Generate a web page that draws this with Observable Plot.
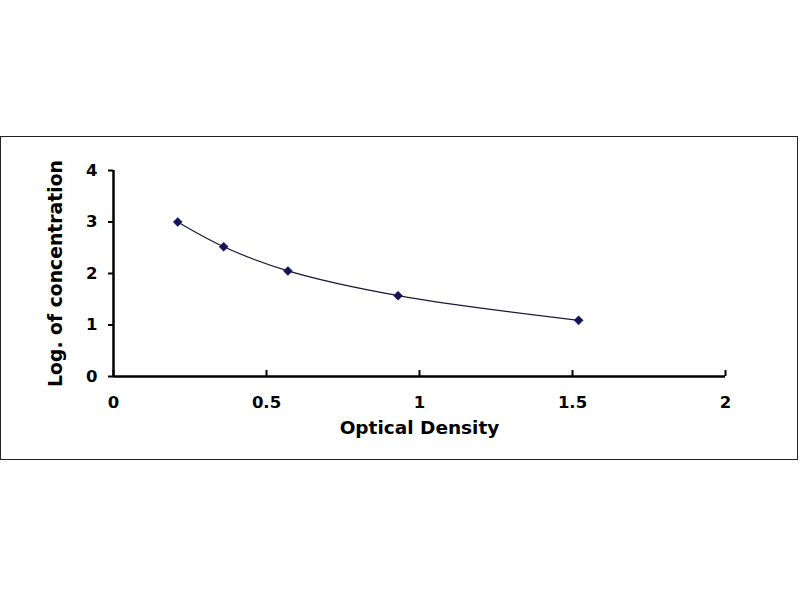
<!DOCTYPE html>
<html>
<head>
<meta charset="utf-8">
<script src="https://cdn.jsdelivr.net/npm/d3@7"></script>
<script src="https://cdn.jsdelivr.net/npm/@observablehq/plot@0.6"></script>
<style>
  html, body { margin: 0; padding: 0; background: #fff; }
  #frame {
    position: absolute; left: 0px; top: 136px;
    width: 796px; height: 322px;
    border: 1.5px solid #222;
  }
  #frame svg { display: block; }
</style>
</head>
<body>
<div id="frame"></div>
<script>
const opticalDensity = [0.21, 0.36, 0.57, 0.93, 1.52];
const logConcentration = [3.0, 2.52, 2.05, 1.57, 1.09];
const xTicks = [0, 0.5, 1, 1.5, 2];
const yTicks = [0, 1, 2, 3, 4];
const xTitle = "Optical Density";
const yTitle = "Log. of concentration";

const data = opticalDensity.map((x, i) => ({x, y: logConcentration[i]}));
const font = "'DejaVu Sans', Verdana, sans-serif";

const chart = Plot.plot({
  width: 796,
  height: 322,
  marginLeft: 112,
  marginRight: 72,
  marginTop: 33,
  marginBottom: 83,
  style: {fontFamily: font, fontWeight: "bold", fontSize: "16px", color: "#000", background: "#fff"},
  x: {domain: [0, 2]},
  y: {domain: [0, 4]},
  marks: [
    Plot.axisY({ticks: yTicks, tickFormat: d => String(d), tickSize: 5, tickPadding: 11, strokeWidth: 2,
      fontWeight: "bold", fontSize: 16.5, fill: "#000", label: null}),
    Plot.axisX({ticks: xTicks, tickFormat: d => String(d), tickSize: -6, tickPadding: 26, strokeWidth: 2,
      fontWeight: "bold", fontSize: 16.5, fill: "#000", label: null}),
    Plot.text([yTitle], {frameAnchor: "left", dx: -58, rotate: -90, text: d => d,
      textAnchor: "middle", lineAnchor: "middle",
      fontWeight: "bold", fontSize: 18.8, fill: "#000"}),
    Plot.text([xTitle], {frameAnchor: "bottom", dy: 52, text: d => d,
      textAnchor: "middle", lineAnchor: "middle",
      fontWeight: "bold", fontSize: 18.5, fill: "#000"}),
    Plot.ruleY([0], {x1: 0, x2: 2, stroke: "#000", strokeWidth: 2.5}),
    Plot.ruleX([0], {y1: 0, y2: 4, stroke: "#000", strokeWidth: 2.5}),
    Plot.line(data, {x: "x", y: "y", curve: "catmull-rom", stroke: "#1a1a3a", strokeWidth: 1.2}),
    Plot.dot(data, {x: "x", y: "y", symbol: "square", rotate: 45, r: 3.6, fill: "#14145a", stroke: "#14145a", strokeWidth: 0.5})
  ]
});
document.getElementById("frame").appendChild(chart);
</script>
</body>
</html>
